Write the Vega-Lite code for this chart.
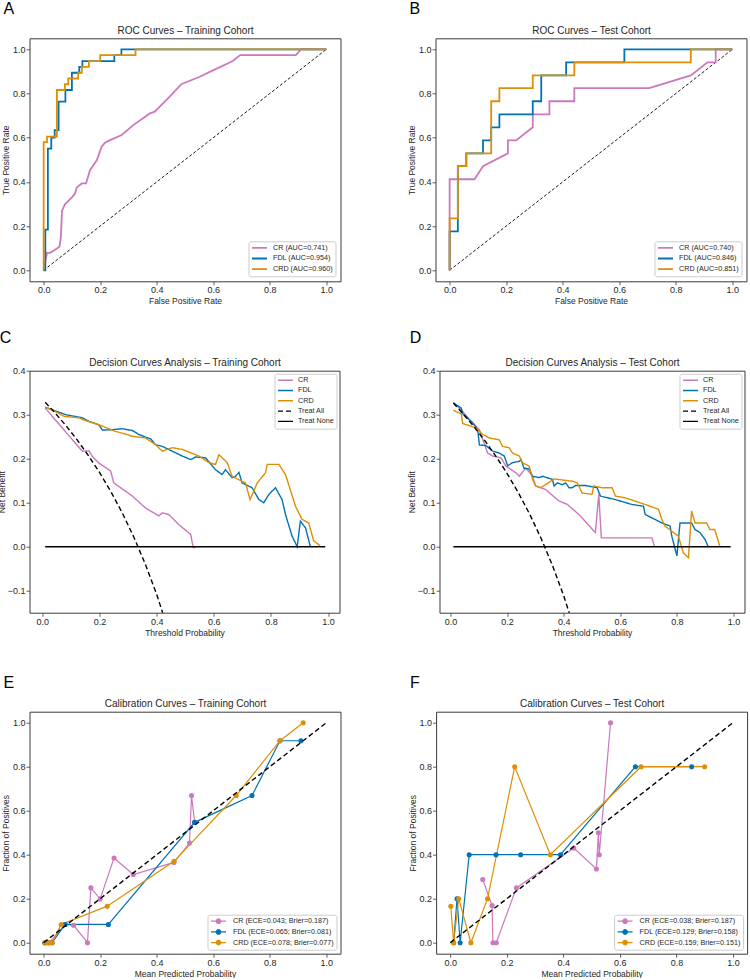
{
"$schema": "https://vega.github.io/schema/vega-lite/v6.json",
"background": "white",
"padding": {"left": -3.5, "top": 0.3, "right": 0, "bottom": 0},
"config": {
  "font": "Liberation Sans",
  "view": {"stroke": "#3a3a3a", "strokeWidth": 1},
  "axis": {"domain": false, "grid": false, "tickColor": "#3a3a3a", "tickSize": 3.5, "tickWidth": 0.8, "labelFontSize": 9, "labelColor": "#262626", "titleFontSize": 8.5, "titleFontWeight": "normal", "titleColor": "#262626", "labelPadding": 1, "titlePadding": 2, "labelFlush": false, "labelOverlap": false},
  "title": {"fontSize": 16, "fontWeight": "normal", "color": "#000000", "anchor": "start", "frame": "bounds", "dx": 2},
  "legend": {"labelColor": "#262626", "strokeColor": "#cccccc", "fillColor": "rgba(255,255,255,0.8)", "cornerRadius": 2, "labelFontSize": 7.2, "clipHeight": 8, "padding": 2.5}
},
"datasets": {
  "diag": [{"x": 0, "y": 0}, {"x": 1, "y": 1}],
  "roc_train": [
    {"model": "CR (AUC=0.741)", "x": 0, "y": 0}, {"model": "CR (AUC=0.741)", "x": 0.006, "y": 0.04}, {"model": "CR (AUC=0.741)", "x": 0.012, "y": 0.079}, {"model": "CR (AUC=0.741)", "x": 0.023, "y": 0.079}, {"model": "CR (AUC=0.741)", "x": 0.047, "y": 0.098}, {"model": "CR (AUC=0.741)", "x": 0.056, "y": 0.106}, {"model": "CR (AUC=0.741)", "x": 0.061, "y": 0.151}, {"model": "CR (AUC=0.741)", "x": 0.065, "y": 0.27}, {"model": "CR (AUC=0.741)", "x": 0.076, "y": 0.3}, {"model": "CR (AUC=0.741)", "x": 0.1, "y": 0.33}, {"model": "CR (AUC=0.741)", "x": 0.111, "y": 0.347}, {"model": "CR (AUC=0.741)", "x": 0.117, "y": 0.375}, {"model": "CR (AUC=0.741)", "x": 0.135, "y": 0.393}, {"model": "CR (AUC=0.741)", "x": 0.15, "y": 0.393}, {"model": "CR (AUC=0.741)", "x": 0.164, "y": 0.453}, {"model": "CR (AUC=0.741)", "x": 0.188, "y": 0.498}, {"model": "CR (AUC=0.741)", "x": 0.205, "y": 0.559}, {"model": "CR (AUC=0.741)", "x": 0.217, "y": 0.577}, {"model": "CR (AUC=0.741)", "x": 0.235, "y": 0.589}, {"model": "CR (AUC=0.741)", "x": 0.276, "y": 0.612}, {"model": "CR (AUC=0.741)", "x": 0.317, "y": 0.657}, {"model": "CR (AUC=0.741)", "x": 0.376, "y": 0.71}, {"model": "CR (AUC=0.741)", "x": 0.393, "y": 0.718}, {"model": "CR (AUC=0.741)", "x": 0.446, "y": 0.786}, {"model": "CR (AUC=0.741)", "x": 0.487, "y": 0.842}, {"model": "CR (AUC=0.741)", "x": 0.552, "y": 0.876}, {"model": "CR (AUC=0.741)", "x": 0.599, "y": 0.905}, {"model": "CR (AUC=0.741)", "x": 0.669, "y": 0.947}, {"model": "CR (AUC=0.741)", "x": 0.695, "y": 0.974}, {"model": "CR (AUC=0.741)", "x": 0.892, "y": 0.974}, {"model": "CR (AUC=0.741)", "x": 0.91, "y": 1.0}, {"model": "CR (AUC=0.741)", "x": 1, "y": 1},
    {"model": "FDL (AUC=0.954)", "x": 0, "y": 0}, {"model": "FDL (AUC=0.954)", "x": 0.006, "y": 0}, {"model": "FDL (AUC=0.954)", "x": 0.006, "y": 0.184}, {"model": "FDL (AUC=0.954)", "x": 0.015, "y": 0.184}, {"model": "FDL (AUC=0.954)", "x": 0.015, "y": 0.551}, {"model": "FDL (AUC=0.954)", "x": 0.027, "y": 0.551}, {"model": "FDL (AUC=0.954)", "x": 0.027, "y": 0.601}, {"model": "FDL (AUC=0.954)", "x": 0.039, "y": 0.601}, {"model": "FDL (AUC=0.954)", "x": 0.039, "y": 0.634}, {"model": "FDL (AUC=0.954)", "x": 0.053, "y": 0.634}, {"model": "FDL (AUC=0.954)", "x": 0.053, "y": 0.763}, {"model": "FDL (AUC=0.954)", "x": 0.077, "y": 0.763}, {"model": "FDL (AUC=0.954)", "x": 0.077, "y": 0.816}, {"model": "FDL (AUC=0.954)", "x": 0.1, "y": 0.816}, {"model": "FDL (AUC=0.954)", "x": 0.1, "y": 0.894}, {"model": "FDL (AUC=0.954)", "x": 0.126, "y": 0.894}, {"model": "FDL (AUC=0.954)", "x": 0.126, "y": 0.921}, {"model": "FDL (AUC=0.954)", "x": 0.137, "y": 0.921}, {"model": "FDL (AUC=0.954)", "x": 0.137, "y": 0.947}, {"model": "FDL (AUC=0.954)", "x": 0.25, "y": 0.947}, {"model": "FDL (AUC=0.954)", "x": 0.25, "y": 0.974}, {"model": "FDL (AUC=0.954)", "x": 0.275, "y": 0.974}, {"model": "FDL (AUC=0.954)", "x": 0.275, "y": 1.0}, {"model": "FDL (AUC=0.954)", "x": 1, "y": 1},
    {"model": "CRD (AUC=0.960)", "x": 0, "y": 0}, {"model": "CRD (AUC=0.960)", "x": 0, "y": 0.58}, {"model": "CRD (AUC=0.960)", "x": 0.012, "y": 0.58}, {"model": "CRD (AUC=0.960)", "x": 0.012, "y": 0.605}, {"model": "CRD (AUC=0.960)", "x": 0.047, "y": 0.605}, {"model": "CRD (AUC=0.960)", "x": 0.047, "y": 0.816}, {"model": "CRD (AUC=0.960)", "x": 0.075, "y": 0.816}, {"model": "CRD (AUC=0.960)", "x": 0.075, "y": 0.842}, {"model": "CRD (AUC=0.960)", "x": 0.087, "y": 0.842}, {"model": "CRD (AUC=0.960)", "x": 0.087, "y": 0.868}, {"model": "CRD (AUC=0.960)", "x": 0.122, "y": 0.868}, {"model": "CRD (AUC=0.960)", "x": 0.122, "y": 0.894}, {"model": "CRD (AUC=0.960)", "x": 0.135, "y": 0.894}, {"model": "CRD (AUC=0.960)", "x": 0.135, "y": 0.921}, {"model": "CRD (AUC=0.960)", "x": 0.16, "y": 0.921}, {"model": "CRD (AUC=0.960)", "x": 0.16, "y": 0.947}, {"model": "CRD (AUC=0.960)", "x": 0.2, "y": 0.947}, {"model": "CRD (AUC=0.960)", "x": 0.2, "y": 0.974}, {"model": "CRD (AUC=0.960)", "x": 0.325, "y": 0.974}, {"model": "CRD (AUC=0.960)", "x": 0.325, "y": 1.0}, {"model": "CRD (AUC=0.960)", "x": 1, "y": 1}
  ],
  "roc_test": [
    {"model": "CR (AUC=0.740)", "x": 0, "y": 0}, {"model": "CR (AUC=0.740)", "x": 0, "y": 0.412}, {"model": "CR (AUC=0.740)", "x": 0.088, "y": 0.412}, {"model": "CR (AUC=0.740)", "x": 0.118, "y": 0.471}, {"model": "CR (AUC=0.740)", "x": 0.206, "y": 0.529}, {"model": "CR (AUC=0.740)", "x": 0.206, "y": 0.588}, {"model": "CR (AUC=0.740)", "x": 0.235, "y": 0.588}, {"model": "CR (AUC=0.740)", "x": 0.294, "y": 0.647}, {"model": "CR (AUC=0.740)", "x": 0.294, "y": 0.706}, {"model": "CR (AUC=0.740)", "x": 0.353, "y": 0.706}, {"model": "CR (AUC=0.740)", "x": 0.353, "y": 0.765}, {"model": "CR (AUC=0.740)", "x": 0.441, "y": 0.765}, {"model": "CR (AUC=0.740)", "x": 0.441, "y": 0.824}, {"model": "CR (AUC=0.740)", "x": 0.706, "y": 0.824}, {"model": "CR (AUC=0.740)", "x": 0.853, "y": 0.882}, {"model": "CR (AUC=0.740)", "x": 0.912, "y": 0.941}, {"model": "CR (AUC=0.740)", "x": 0.941, "y": 0.941}, {"model": "CR (AUC=0.740)", "x": 0.941, "y": 1.0}, {"model": "CR (AUC=0.740)", "x": 1, "y": 1},
    {"model": "FDL (AUC=0.846)", "x": 0, "y": 0}, {"model": "FDL (AUC=0.846)", "x": 0, "y": 0.176}, {"model": "FDL (AUC=0.846)", "x": 0.029, "y": 0.176}, {"model": "FDL (AUC=0.846)", "x": 0.029, "y": 0.471}, {"model": "FDL (AUC=0.846)", "x": 0.059, "y": 0.471}, {"model": "FDL (AUC=0.846)", "x": 0.059, "y": 0.529}, {"model": "FDL (AUC=0.846)", "x": 0.118, "y": 0.529}, {"model": "FDL (AUC=0.846)", "x": 0.118, "y": 0.588}, {"model": "FDL (AUC=0.846)", "x": 0.147, "y": 0.588}, {"model": "FDL (AUC=0.846)", "x": 0.147, "y": 0.647}, {"model": "FDL (AUC=0.846)", "x": 0.176, "y": 0.647}, {"model": "FDL (AUC=0.846)", "x": 0.176, "y": 0.706}, {"model": "FDL (AUC=0.846)", "x": 0.294, "y": 0.706}, {"model": "FDL (AUC=0.846)", "x": 0.294, "y": 0.765}, {"model": "FDL (AUC=0.846)", "x": 0.324, "y": 0.765}, {"model": "FDL (AUC=0.846)", "x": 0.324, "y": 0.882}, {"model": "FDL (AUC=0.846)", "x": 0.412, "y": 0.882}, {"model": "FDL (AUC=0.846)", "x": 0.412, "y": 0.941}, {"model": "FDL (AUC=0.846)", "x": 0.618, "y": 0.941}, {"model": "FDL (AUC=0.846)", "x": 0.618, "y": 1.0}, {"model": "FDL (AUC=0.846)", "x": 1, "y": 1},
    {"model": "CRD (AUC=0.851)", "x": 0, "y": 0}, {"model": "CRD (AUC=0.851)", "x": 0, "y": 0.235}, {"model": "CRD (AUC=0.851)", "x": 0.029, "y": 0.235}, {"model": "CRD (AUC=0.851)", "x": 0.029, "y": 0.471}, {"model": "CRD (AUC=0.851)", "x": 0.059, "y": 0.471}, {"model": "CRD (AUC=0.851)", "x": 0.059, "y": 0.529}, {"model": "CRD (AUC=0.851)", "x": 0.147, "y": 0.529}, {"model": "CRD (AUC=0.851)", "x": 0.147, "y": 0.765}, {"model": "CRD (AUC=0.851)", "x": 0.176, "y": 0.765}, {"model": "CRD (AUC=0.851)", "x": 0.176, "y": 0.824}, {"model": "CRD (AUC=0.851)", "x": 0.294, "y": 0.824}, {"model": "CRD (AUC=0.851)", "x": 0.294, "y": 0.882}, {"model": "CRD (AUC=0.851)", "x": 0.441, "y": 0.882}, {"model": "CRD (AUC=0.851)", "x": 0.441, "y": 0.941}, {"model": "CRD (AUC=0.851)", "x": 0.853, "y": 0.941}, {"model": "CRD (AUC=0.851)", "x": 0.853, "y": 1.0}, {"model": "CRD (AUC=0.851)", "x": 1, "y": 1}
  ],
  "dca_train": [
    {"curve": "CR", "x": 0.01, "y": 0.315}, {"curve": "CR", "x": 0.14, "y": 0.217}, {"curve": "CR", "x": 0.163, "y": 0.218}, {"curve": "CR", "x": 0.175, "y": 0.205}, {"curve": "CR", "x": 0.198, "y": 0.19}, {"curve": "CR", "x": 0.239, "y": 0.172}, {"curve": "CR", "x": 0.25, "y": 0.145}, {"curve": "CR", "x": 0.315, "y": 0.115}, {"curve": "CR", "x": 0.361, "y": 0.088}, {"curve": "CR", "x": 0.408, "y": 0.07}, {"curve": "CR", "x": 0.42, "y": 0.077}, {"curve": "CR", "x": 0.443, "y": 0.073}, {"curve": "CR", "x": 0.478, "y": 0.05}, {"curve": "CR", "x": 0.519, "y": 0.028}, {"curve": "CR", "x": 0.528, "y": -0.002}, {"curve": "CR", "x": 0.536, "y": -0.002},
    {"curve": "FDL", "x": 0.01, "y": 0.317}, {"curve": "FDL", "x": 0.082, "y": 0.3}, {"curve": "FDL", "x": 0.14, "y": 0.293}, {"curve": "FDL", "x": 0.163, "y": 0.285}, {"curve": "FDL", "x": 0.198, "y": 0.277}, {"curve": "FDL", "x": 0.21, "y": 0.265}, {"curve": "FDL", "x": 0.245, "y": 0.266}, {"curve": "FDL", "x": 0.28, "y": 0.268}, {"curve": "FDL", "x": 0.315, "y": 0.264}, {"curve": "FDL", "x": 0.338, "y": 0.255}, {"curve": "FDL", "x": 0.361, "y": 0.249}, {"curve": "FDL", "x": 0.379, "y": 0.245}, {"curve": "FDL", "x": 0.396, "y": 0.232}, {"curve": "FDL", "x": 0.42, "y": 0.228}, {"curve": "FDL", "x": 0.455, "y": 0.217}, {"curve": "FDL", "x": 0.49, "y": 0.206}, {"curve": "FDL", "x": 0.519, "y": 0.198}, {"curve": "FDL", "x": 0.536, "y": 0.204}, {"curve": "FDL", "x": 0.571, "y": 0.202}, {"curve": "FDL", "x": 0.606, "y": 0.175}, {"curve": "FDL", "x": 0.629, "y": 0.164}, {"curve": "FDL", "x": 0.641, "y": 0.175}, {"curve": "FDL", "x": 0.664, "y": 0.157}, {"curve": "FDL", "x": 0.676, "y": 0.16}, {"curve": "FDL", "x": 0.688, "y": 0.169}, {"curve": "FDL", "x": 0.699, "y": 0.145}, {"curve": "FDL", "x": 0.734, "y": 0.134}, {"curve": "FDL", "x": 0.758, "y": 0.107}, {"curve": "FDL", "x": 0.775, "y": 0.1}, {"curve": "FDL", "x": 0.793, "y": 0.119}, {"curve": "FDL", "x": 0.816, "y": 0.134}, {"curve": "FDL", "x": 0.839, "y": 0.107}, {"curve": "FDL", "x": 0.851, "y": 0.073}, {"curve": "FDL", "x": 0.874, "y": 0.024}, {"curve": "FDL", "x": 0.892, "y": 0}, {"curve": "FDL", "x": 0.903, "y": 0.058}, {"curve": "FDL", "x": 0.921, "y": 0.043}, {"curve": "FDL", "x": 0.938, "y": 0},
    {"curve": "CRD", "x": 0.01, "y": 0.317}, {"curve": "CRD", "x": 0.035, "y": 0.311}, {"curve": "CRD", "x": 0.076, "y": 0.296}, {"curve": "CRD", "x": 0.128, "y": 0.293}, {"curve": "CRD", "x": 0.14, "y": 0.289}, {"curve": "CRD", "x": 0.198, "y": 0.277}, {"curve": "CRD", "x": 0.256, "y": 0.262}, {"curve": "CRD", "x": 0.291, "y": 0.256}, {"curve": "CRD", "x": 0.315, "y": 0.251}, {"curve": "CRD", "x": 0.361, "y": 0.247}, {"curve": "CRD", "x": 0.396, "y": 0.232}, {"curve": "CRD", "x": 0.42, "y": 0.217}, {"curve": "CRD", "x": 0.455, "y": 0.225}, {"curve": "CRD", "x": 0.49, "y": 0.221}, {"curve": "CRD", "x": 0.548, "y": 0.206}, {"curve": "CRD", "x": 0.583, "y": 0.191}, {"curve": "CRD", "x": 0.606, "y": 0.187}, {"curve": "CRD", "x": 0.618, "y": 0.209}, {"curve": "CRD", "x": 0.647, "y": 0.191}, {"curve": "CRD", "x": 0.664, "y": 0.16}, {"curve": "CRD", "x": 0.711, "y": 0.145}, {"curve": "CRD", "x": 0.727, "y": 0.107}, {"curve": "CRD", "x": 0.752, "y": 0.145}, {"curve": "CRD", "x": 0.781, "y": 0.168}, {"curve": "CRD", "x": 0.787, "y": 0.187}, {"curve": "CRD", "x": 0.828, "y": 0.187}, {"curve": "CRD", "x": 0.851, "y": 0.164}, {"curve": "CRD", "x": 0.886, "y": 0.092}, {"curve": "CRD", "x": 0.909, "y": 0.062}, {"curve": "CRD", "x": 0.932, "y": 0.054}, {"curve": "CRD", "x": 0.95, "y": 0.013}, {"curve": "CRD", "x": 0.967, "y": 0.005}, {"curve": "CRD", "x": 0.973, "y": 0},
    {"curve": "Treat All", "x": 0.01, "y": 0.3283}, {"curve": "Treat All", "x": 0.04, "y": 0.3073}, {"curve": "Treat All", "x": 0.08, "y": 0.2772}, {"curve": "Treat All", "x": 0.12, "y": 0.2443}, {"curve": "Treat All", "x": 0.16, "y": 0.2083}, {"curve": "Treat All", "x": 0.2, "y": 0.1688}, {"curve": "Treat All", "x": 0.24, "y": 0.125}, {"curve": "Treat All", "x": 0.28, "y": 0.0764}, {"curve": "Treat All", "x": 0.32, "y": 0.0221}, {"curve": "Treat All", "x": 0.36, "y": -0.0391}, {"curve": "Treat All", "x": 0.4, "y": -0.1083}, {"curve": "Treat All", "x": 0.44, "y": -0.1875},
    {"curve": "Treat None", "x": 0.01, "y": 0}, {"curve": "Treat None", "x": 0.99, "y": 0}
  ],
  "dca_test": [
    {"curve": "CR", "x": 0.01, "y": 0.327}, {"curve": "CR", "x": 0.038, "y": 0.311}, {"curve": "CR", "x": 0.067, "y": 0.289}, {"curve": "CR", "x": 0.102, "y": 0.266}, {"curve": "CR", "x": 0.131, "y": 0.213}, {"curve": "CR", "x": 0.149, "y": 0.206}, {"curve": "CR", "x": 0.178, "y": 0.202}, {"curve": "CR", "x": 0.196, "y": 0.183}, {"curve": "CR", "x": 0.231, "y": 0.168}, {"curve": "CR", "x": 0.243, "y": 0.16}, {"curve": "CR", "x": 0.266, "y": 0.179}, {"curve": "CR", "x": 0.29, "y": 0.16}, {"curve": "CR", "x": 0.301, "y": 0.138}, {"curve": "CR", "x": 0.336, "y": 0.13}, {"curve": "CR", "x": 0.383, "y": 0.104}, {"curve": "CR", "x": 0.413, "y": 0.096}, {"curve": "CR", "x": 0.454, "y": 0.073}, {"curve": "CR", "x": 0.512, "y": 0.032}, {"curve": "CR", "x": 0.524, "y": 0.119}, {"curve": "CR", "x": 0.533, "y": 0.02}, {"curve": "CR", "x": 0.547, "y": 0.02}, {"curve": "CR", "x": 0.712, "y": 0.02}, {"curve": "CR", "x": 0.721, "y": 0},
    {"curve": "FDL", "x": 0.01, "y": 0.327}, {"curve": "FDL", "x": 0.038, "y": 0.315}, {"curve": "FDL", "x": 0.043, "y": 0.302}, {"curve": "FDL", "x": 0.079, "y": 0.281}, {"curve": "FDL", "x": 0.096, "y": 0.266}, {"curve": "FDL", "x": 0.102, "y": 0.231}, {"curve": "FDL", "x": 0.125, "y": 0.23}, {"curve": "FDL", "x": 0.149, "y": 0.217}, {"curve": "FDL", "x": 0.172, "y": 0.213}, {"curve": "FDL", "x": 0.19, "y": 0.206}, {"curve": "FDL", "x": 0.202, "y": 0.184}, {"curve": "FDL", "x": 0.219, "y": 0.191}, {"curve": "FDL", "x": 0.243, "y": 0.194}, {"curve": "FDL", "x": 0.249, "y": 0.198}, {"curve": "FDL", "x": 0.26, "y": 0.178}, {"curve": "FDL", "x": 0.278, "y": 0.177}, {"curve": "FDL", "x": 0.29, "y": 0.16}, {"curve": "FDL", "x": 0.313, "y": 0.157}, {"curve": "FDL", "x": 0.325, "y": 0.16}, {"curve": "FDL", "x": 0.36, "y": 0.153}, {"curve": "FDL", "x": 0.366, "y": 0.138}, {"curve": "FDL", "x": 0.378, "y": 0.145}, {"curve": "FDL", "x": 0.395, "y": 0.141}, {"curve": "FDL", "x": 0.407, "y": 0.145}, {"curve": "FDL", "x": 0.419, "y": 0.134}, {"curve": "FDL", "x": 0.43, "y": 0.134}, {"curve": "FDL", "x": 0.442, "y": 0.139}, {"curve": "FDL", "x": 0.477, "y": 0.139}, {"curve": "FDL", "x": 0.518, "y": 0.134}, {"curve": "FDL", "x": 0.53, "y": 0.115}, {"curve": "FDL", "x": 0.583, "y": 0.107}, {"curve": "FDL", "x": 0.641, "y": 0.096}, {"curve": "FDL", "x": 0.682, "y": 0.092}, {"curve": "FDL", "x": 0.688, "y": 0.073}, {"curve": "FDL", "x": 0.723, "y": 0.062}, {"curve": "FDL", "x": 0.747, "y": 0.054}, {"curve": "FDL", "x": 0.776, "y": 0.047}, {"curve": "FDL", "x": 0.782, "y": 0.024}, {"curve": "FDL", "x": 0.8, "y": -0.021}, {"curve": "FDL", "x": 0.811, "y": 0.054}, {"curve": "FDL", "x": 0.852, "y": 0.054}, {"curve": "FDL", "x": 0.864, "y": 0.039}, {"curve": "FDL", "x": 0.882, "y": 0.032}, {"curve": "FDL", "x": 0.899, "y": 0.017}, {"curve": "FDL", "x": 0.911, "y": 0},
    {"curve": "CRD", "x": 0.01, "y": 0.31}, {"curve": "CRD", "x": 0.038, "y": 0.302}, {"curve": "CRD", "x": 0.043, "y": 0.28}, {"curve": "CRD", "x": 0.09, "y": 0.27}, {"curve": "CRD", "x": 0.114, "y": 0.255}, {"curve": "CRD", "x": 0.137, "y": 0.247}, {"curve": "CRD", "x": 0.172, "y": 0.243}, {"curve": "CRD", "x": 0.184, "y": 0.228}, {"curve": "CRD", "x": 0.207, "y": 0.225}, {"curve": "CRD", "x": 0.219, "y": 0.213}, {"curve": "CRD", "x": 0.243, "y": 0.206}, {"curve": "CRD", "x": 0.254, "y": 0.191}, {"curve": "CRD", "x": 0.278, "y": 0.183}, {"curve": "CRD", "x": 0.29, "y": 0.153}, {"curve": "CRD", "x": 0.301, "y": 0.138}, {"curve": "CRD", "x": 0.319, "y": 0.134}, {"curve": "CRD", "x": 0.336, "y": 0.141}, {"curve": "CRD", "x": 0.366, "y": 0.154}, {"curve": "CRD", "x": 0.378, "y": 0.153}, {"curve": "CRD", "x": 0.43, "y": 0.149}, {"curve": "CRD", "x": 0.448, "y": 0.145}, {"curve": "CRD", "x": 0.465, "y": 0.122}, {"curve": "CRD", "x": 0.5, "y": 0.119}, {"curve": "CRD", "x": 0.506, "y": 0.138}, {"curve": "CRD", "x": 0.536, "y": 0.134}, {"curve": "CRD", "x": 0.571, "y": 0.134}, {"curve": "CRD", "x": 0.583, "y": 0.115}, {"curve": "CRD", "x": 0.618, "y": 0.111}, {"curve": "CRD", "x": 0.688, "y": 0.096}, {"curve": "CRD", "x": 0.735, "y": 0.085}, {"curve": "CRD", "x": 0.747, "y": 0.062}, {"curve": "CRD", "x": 0.758, "y": 0.047}, {"curve": "CRD", "x": 0.805, "y": 0.024}, {"curve": "CRD", "x": 0.823, "y": -0.014}, {"curve": "CRD", "x": 0.841, "y": -0.025}, {"curve": "CRD", "x": 0.852, "y": 0.081}, {"curve": "CRD", "x": 0.864, "y": 0.054}, {"curve": "CRD", "x": 0.905, "y": 0.054}, {"curve": "CRD", "x": 0.917, "y": 0.039}, {"curve": "CRD", "x": 0.934, "y": 0.039}, {"curve": "CRD", "x": 0.952, "y": 0},
    {"curve": "Treat All", "x": 0.01, "y": 0.3263}, {"curve": "Treat All", "x": 0.04, "y": 0.3052}, {"curve": "Treat All", "x": 0.08, "y": 0.275}, {"curve": "Treat All", "x": 0.12, "y": 0.242}, {"curve": "Treat All", "x": 0.16, "y": 0.2059}, {"curve": "Treat All", "x": 0.2, "y": 0.1663}, {"curve": "Treat All", "x": 0.24, "y": 0.1224}, {"curve": "Treat All", "x": 0.28, "y": 0.0736}, {"curve": "Treat All", "x": 0.32, "y": 0.0191}, {"curve": "Treat All", "x": 0.36, "y": -0.0422}, {"curve": "Treat All", "x": 0.4, "y": -0.1117}, {"curve": "Treat All", "x": 0.44, "y": -0.1911},
    {"curve": "Treat None", "x": 0.01, "y": 0}, {"curve": "Treat None", "x": 0.99, "y": 0}
  ],
  "cal_train": [
    {"model": "CR (ECE=0.043; Brier=0.187)", "x": 0.005, "y": 0}, {"model": "CR (ECE=0.043; Brier=0.187)", "x": 0.02, "y": 0}, {"model": "CR (ECE=0.043; Brier=0.187)", "x": 0.076, "y": 0.083}, {"model": "CR (ECE=0.043; Brier=0.187)", "x": 0.106, "y": 0.079}, {"model": "CR (ECE=0.043; Brier=0.187)", "x": 0.155, "y": 0}, {"model": "CR (ECE=0.043; Brier=0.187)", "x": 0.167, "y": 0.249}, {"model": "CR (ECE=0.043; Brier=0.187)", "x": 0.2, "y": 0.199}, {"model": "CR (ECE=0.043; Brier=0.187)", "x": 0.249, "y": 0.385}, {"model": "CR (ECE=0.043; Brier=0.187)", "x": 0.317, "y": 0.31}, {"model": "CR (ECE=0.043; Brier=0.187)", "x": 0.461, "y": 0.365}, {"model": "CR (ECE=0.043; Brier=0.187)", "x": 0.516, "y": 0.453}, {"model": "CR (ECE=0.043; Brier=0.187)", "x": 0.523, "y": 0.669}, {"model": "CR (ECE=0.043; Brier=0.187)", "x": 0.534, "y": 0.547},
    {"model": "FDL (ECE=0.065; Brier=0.081)", "x": 0.004, "y": 0}, {"model": "FDL (ECE=0.065; Brier=0.081)", "x": 0.016, "y": 0}, {"model": "FDL (ECE=0.065; Brier=0.081)", "x": 0.03, "y": 0}, {"model": "FDL (ECE=0.065; Brier=0.081)", "x": 0.076, "y": 0.083}, {"model": "FDL (ECE=0.065; Brier=0.081)", "x": 0.229, "y": 0.083}, {"model": "FDL (ECE=0.065; Brier=0.081)", "x": 0.534, "y": 0.547}, {"model": "FDL (ECE=0.065; Brier=0.081)", "x": 0.737, "y": 0.669}, {"model": "FDL (ECE=0.065; Brier=0.081)", "x": 0.836, "y": 0.918}, {"model": "FDL (ECE=0.065; Brier=0.081)", "x": 0.91, "y": 0.918},
    {"model": "CRD (ECE=0.078; Brier=0.077)", "x": 0.006, "y": 0}, {"model": "CRD (ECE=0.078; Brier=0.077)", "x": 0.018, "y": 0}, {"model": "CRD (ECE=0.078; Brier=0.077)", "x": 0.03, "y": 0}, {"model": "CRD (ECE=0.078; Brier=0.077)", "x": 0.062, "y": 0.083}, {"model": "CRD (ECE=0.078; Brier=0.077)", "x": 0.225, "y": 0.166}, {"model": "CRD (ECE=0.078; Brier=0.077)", "x": 0.461, "y": 0.37}, {"model": "CRD (ECE=0.078; Brier=0.077)", "x": 0.681, "y": 0.669}, {"model": "CRD (ECE=0.078; Brier=0.077)", "x": 0.836, "y": 0.918}, {"model": "CRD (ECE=0.078; Brier=0.077)", "x": 0.918, "y": 1.0}
  ],
  "cal_test": [
    {"model": "CR (ECE=0.038; Brier=0.187)", "x": 0.115, "y": 0.287}, {"model": "CR (ECE=0.038; Brier=0.187)", "x": 0.148, "y": 0.169}, {"model": "CR (ECE=0.038; Brier=0.187)", "x": 0.151, "y": 0}, {"model": "CR (ECE=0.038; Brier=0.187)", "x": 0.163, "y": 0}, {"model": "CR (ECE=0.038; Brier=0.187)", "x": 0.234, "y": 0.249}, {"model": "CR (ECE=0.038; Brier=0.187)", "x": 0.437, "y": 0.43}, {"model": "CR (ECE=0.038; Brier=0.187)", "x": 0.517, "y": 0.335}, {"model": "CR (ECE=0.038; Brier=0.187)", "x": 0.524, "y": 0.5}, {"model": "CR (ECE=0.038; Brier=0.187)", "x": 0.527, "y": 0.4}, {"model": "CR (ECE=0.038; Brier=0.187)", "x": 0.567, "y": 1.0},
    {"model": "FDL (ECE=0.129; Brier=0.158)", "x": 0.012, "y": 0}, {"model": "FDL (ECE=0.129; Brier=0.158)", "x": 0.024, "y": 0.2}, {"model": "FDL (ECE=0.129; Brier=0.158)", "x": 0.035, "y": 0}, {"model": "FDL (ECE=0.129; Brier=0.158)", "x": 0.067, "y": 0.4}, {"model": "FDL (ECE=0.129; Brier=0.158)", "x": 0.162, "y": 0.4}, {"model": "FDL (ECE=0.129; Brier=0.158)", "x": 0.249, "y": 0.4}, {"model": "FDL (ECE=0.129; Brier=0.158)", "x": 0.39, "y": 0.4}, {"model": "FDL (ECE=0.129; Brier=0.158)", "x": 0.655, "y": 0.8}, {"model": "FDL (ECE=0.129; Brier=0.158)", "x": 0.854, "y": 0.8},
    {"model": "CRD (ECE=0.159; Brier=0.151)", "x": 0.002, "y": 0.166}, {"model": "CRD (ECE=0.159; Brier=0.151)", "x": 0.012, "y": 0}, {"model": "CRD (ECE=0.159; Brier=0.151)", "x": 0.03, "y": 0.2}, {"model": "CRD (ECE=0.159; Brier=0.151)", "x": 0.073, "y": 0}, {"model": "CRD (ECE=0.159; Brier=0.151)", "x": 0.132, "y": 0.2}, {"model": "CRD (ECE=0.159; Brier=0.151)", "x": 0.228, "y": 0.8}, {"model": "CRD (ECE=0.159; Brier=0.151)", "x": 0.354, "y": 0.4}, {"model": "CRD (ECE=0.159; Brier=0.151)", "x": 0.675, "y": 0.8}, {"model": "CRD (ECE=0.159; Brier=0.151)", "x": 0.9, "y": 0.8}
  ]
},
"columns": 1,
"align": "none",
"spacing": 22.4,
"resolve": {"scale": {"color": "independent", "strokeDash": "independent"}, "legend": {"color": "independent", "strokeDash": "independent"}},
"concat": [
  {
    "hconcat": [
      {
        "title": {"text": "A", "offset": 8},
        "width": 311, "height": 243,
        "resolve": {"axis": {"x": "independent"}},
        "layer": [
          {"data": {"name": "diag"}, "mark": {"type": "line", "color": "#000", "strokeWidth": 0.9, "strokeDash": [3, 2]},
           "encoding": {
             "x": {"field": "x", "type": "quantitative", "scale": {"domain": [-0.05, 1.05], "nice": false, "zero": false}, "axis": {"orient": "top", "labels": false, "ticks": false, "title": "ROC Curves – Training Cohort", "titleFontSize": 10, "titlePadding": 3}},
             "y": {"field": "y", "type": "quantitative", "scale": {"domain": [-0.05, 1.05], "nice": false, "zero": false}, "axis": {"title": "True Positive Rate", "values": [0, 0.2, 0.4, 0.6, 0.8, 1], "format": ".1f"}}}},
          {"data": {"name": "roc_train"}, "mark": {"type": "line", "strokeWidth": 1.8, "clip": true},
           "encoding": {
             "x": {"field": "x", "type": "quantitative", "scale": {"domain": [-0.05, 1.05], "nice": false, "zero": false}, "axis": {"orient": "bottom", "title": "False Positive Rate", "values": [0, 0.2, 0.4, 0.6, 0.8, 1], "format": ".1f"}},
             "y": {"field": "y", "type": "quantitative", "scale": {"domain": [-0.05, 1.05], "nice": false, "zero": false}, "axis": {"title": "True Positive Rate", "values": [0, 0.2, 0.4, 0.6, 0.8, 1], "format": ".1f"}},
             "order": {"value": null},
             "color": {"field": "model", "type": "nominal", "scale": {"domain": ["CR (AUC=0.741)", "FDL (AUC=0.954)", "CRD (AUC=0.960)"], "range": ["#CC78BC", "#0173B2", "#DE8F05"]}, "legend": {"title": null, "orient": "bottom-right", "offset": 5, "symbolType": "stroke", "symbolSize": 225, "symbolStrokeWidth": 1.8, "rowPadding": 2.7, "labelOffset": 5}}}}
        ]
      },
      {
        "title": {"text": "B", "offset": 8},
        "width": 311, "height": 243,
        "resolve": {"axis": {"x": "independent"}},
        "layer": [
          {"data": {"name": "diag"}, "mark": {"type": "line", "color": "#000", "strokeWidth": 0.9, "strokeDash": [3, 2]},
           "encoding": {
             "x": {"field": "x", "type": "quantitative", "scale": {"domain": [-0.05, 1.05], "nice": false, "zero": false}, "axis": {"orient": "top", "labels": false, "ticks": false, "title": "ROC Curves – Test Cohort", "titleFontSize": 10, "titlePadding": 3}},
             "y": {"field": "y", "type": "quantitative", "scale": {"domain": [-0.05, 1.05], "nice": false, "zero": false}, "axis": {"title": "True Positive Rate", "values": [0, 0.2, 0.4, 0.6, 0.8, 1], "format": ".1f"}}}},
          {"data": {"name": "roc_test"}, "mark": {"type": "line", "strokeWidth": 1.8, "clip": true},
           "encoding": {
             "x": {"field": "x", "type": "quantitative", "scale": {"domain": [-0.05, 1.05], "nice": false, "zero": false}, "axis": {"orient": "bottom", "title": "False Positive Rate", "values": [0, 0.2, 0.4, 0.6, 0.8, 1], "format": ".1f"}},
             "y": {"field": "y", "type": "quantitative", "scale": {"domain": [-0.05, 1.05], "nice": false, "zero": false}, "axis": {"title": "True Positive Rate", "values": [0, 0.2, 0.4, 0.6, 0.8, 1], "format": ".1f"}},
             "order": {"value": null},
             "color": {"field": "model", "type": "nominal", "scale": {"domain": ["CR (AUC=0.740)", "FDL (AUC=0.846)", "CRD (AUC=0.851)"], "range": ["#CC78BC", "#0173B2", "#DE8F05"]}, "legend": {"title": null, "orient": "bottom-right", "offset": 5, "symbolType": "stroke", "symbolSize": 225, "symbolStrokeWidth": 1.8, "rowPadding": 2.7, "labelOffset": 5}}}}
        ]
      }
    ],
    "spacing": 95,
    "bounds": "flush",
    "resolve": {"scale": {"color": "independent"}, "legend": {"color": "independent"}}
  },
  {
    "columns": 1,
    "align": "none",
    "concat": [
      {
        "hconcat": [
          {
            "title": {"text": "C", "offset": 12},
            "width": 310, "height": 242,
            "resolve": {"axis": {"x": "independent"}},
            "layer": [
              {"data": {"name": "dca_train"}, "mark": {"type": "line", "strokeWidth": 1.4, "clip": true},
               "encoding": {
                 "x": {"field": "x", "type": "quantitative", "scale": {"domain": [-0.045, 1.04], "nice": false, "zero": false}, "axis": {"orient": "bottom", "title": "Threshold Probability", "values": [0, 0.2, 0.4, 0.6, 0.8, 1], "format": ".1f"}},
                 "y": {"field": "y", "type": "quantitative", "scale": {"domain": [-0.15, 0.4], "nice": false, "zero": false}, "axis": {"title": "Net Benefit", "titlePadding": 0.5, "values": [-0.1, 0, 0.1, 0.2, 0.3, 0.4], "format": ".1f"}},
                 "order": {"value": null},
                 "color": {"field": "curve", "type": "nominal", "scale": {"domain": ["CR", "FDL", "CRD", "Treat All", "Treat None"], "range": ["#CC78BC", "#0173B2", "#DE8F05", "#000000", "#000000"]}, "legend": {"title": null, "orient": "top-right", "offset": 3, "symbolType": "stroke", "symbolSize": 225, "symbolStrokeWidth": 1.4, "rowPadding": 2.3, "labelOffset": 4}},
                 "strokeDash": {"field": "curve", "type": "nominal", "scale": {"domain": ["CR", "FDL", "CRD", "Treat All", "Treat None"], "range": [[1, 0], [1, 0], [1, 0], [5, 3], [1, 0]]}, "legend": {"title": null, "orient": "top-right", "offset": 3, "symbolType": "stroke", "symbolSize": 225, "symbolStrokeWidth": 1.4, "rowPadding": 2.3, "labelOffset": 4}}}},
              {"data": {"name": "diag"}, "mark": {"type": "point", "opacity": 0, "clip": true},
               "encoding": {
                 "x": {"field": "x", "type": "quantitative", "scale": {"domain": [-0.045, 1.04], "nice": false, "zero": false}, "axis": {"orient": "top", "labels": false, "ticks": false, "title": "Decision Curves Analysis – Training Cohort", "titleFontSize": 10, "titlePadding": 3}},
                 "y": {"field": "y", "type": "quantitative", "scale": {"domain": [-0.15, 0.4], "nice": false, "zero": false}, "axis": {"title": "Net Benefit", "titlePadding": 0.5, "values": [-0.1, 0, 0.1, 0.2, 0.3, 0.4], "format": ".1f"}}}}
            ]
          },
          {
            "title": {"text": "D", "offset": 12},
            "width": 305, "height": 242,
            "resolve": {"axis": {"x": "independent"}},
            "layer": [
              {"data": {"name": "dca_test"}, "mark": {"type": "line", "strokeWidth": 1.4, "clip": true},
               "encoding": {
                 "x": {"field": "x", "type": "quantitative", "scale": {"domain": [-0.039, 1.039], "nice": false, "zero": false}, "axis": {"orient": "bottom", "title": "Threshold Probability", "values": [0, 0.2, 0.4, 0.6, 0.8, 1], "format": ".1f"}},
                 "y": {"field": "y", "type": "quantitative", "scale": {"domain": [-0.15, 0.4], "nice": false, "zero": false}, "axis": {"title": "Net Benefit", "titlePadding": 0.5, "values": [-0.1, 0, 0.1, 0.2, 0.3, 0.4], "format": ".1f"}},
                 "order": {"value": null},
                 "color": {"field": "curve", "type": "nominal", "scale": {"domain": ["CR", "FDL", "CRD", "Treat All", "Treat None"], "range": ["#CC78BC", "#0173B2", "#DE8F05", "#000000", "#000000"]}, "legend": {"title": null, "orient": "top-right", "offset": 3, "symbolType": "stroke", "symbolSize": 225, "symbolStrokeWidth": 1.4, "rowPadding": 2.3, "labelOffset": 4}},
                 "strokeDash": {"field": "curve", "type": "nominal", "scale": {"domain": ["CR", "FDL", "CRD", "Treat All", "Treat None"], "range": [[1, 0], [1, 0], [1, 0], [5, 3], [1, 0]]}, "legend": {"title": null, "orient": "top-right", "offset": 3, "symbolType": "stroke", "symbolSize": 225, "symbolStrokeWidth": 1.4, "rowPadding": 2.3, "labelOffset": 4}}}},
              {"data": {"name": "diag"}, "mark": {"type": "point", "opacity": 0, "clip": true},
               "encoding": {
                 "x": {"field": "x", "type": "quantitative", "scale": {"domain": [-0.039, 1.039], "nice": false, "zero": false}, "axis": {"orient": "top", "labels": false, "ticks": false, "title": "Decision Curves Analysis – Test Cohort", "titleFontSize": 10, "titlePadding": 3}},
                 "y": {"field": "y", "type": "quantitative", "scale": {"domain": [-0.15, 0.4], "nice": false, "zero": false}, "axis": {"title": "Net Benefit", "titlePadding": 0.5, "values": [-0.1, 0, 0.1, 0.2, 0.3, 0.4], "format": ".1f"}}}}
            ]
          }
        ],
        "spacing": 100,
        "bounds": "flush",
        "resolve": {"scale": {"color": "independent", "strokeDash": "independent"}, "legend": {"color": "independent", "strokeDash": "independent"}}
      },
      {
        "hconcat": [
          {
            "title": {"text": "E", "offset": 8},
            "width": 311, "height": 242,
            "resolve": {"axis": {"x": "independent"}},
            "layer": [
              {"data": {"name": "cal_train"}, "mark": {"type": "line", "strokeWidth": 1.2, "clip": true, "point": {"filled": true, "size": 26}},
               "encoding": {
                 "x": {"field": "x", "type": "quantitative", "scale": {"domain": [-0.05, 1.05], "nice": false, "zero": false}, "axis": {"orient": "bottom", "title": "Mean Predicted Probability", "values": [0, 0.2, 0.4, 0.6, 0.8, 1], "format": ".1f"}},
                 "y": {"field": "y", "type": "quantitative", "scale": {"domain": [-0.05, 1.05], "nice": false, "zero": false}, "axis": {"title": "Fraction of Positives", "values": [0, 0.2, 0.4, 0.6, 0.8, 1], "format": ".1f"}},
                 "order": {"value": null},
                 "color": {"field": "model", "type": "nominal", "scale": {"domain": ["CR (ECE=0.043; Brier=0.187)", "FDL (ECE=0.065; Brier=0.081)", "CRD (ECE=0.078; Brier=0.077)"], "range": ["#CC78BC", "#0173B2", "#DE8F05"]}, "legend": {"title": null, "orient": "bottom-right", "offset": 4, "symbolType": "M-1,0H1M0.3,0A0.3,0.3,0,1,1,-0.3,0A0.3,0.3,0,1,1,0.3,0Z", "symbolSize": 225, "symbolStrokeWidth": 1.2, "rowPadding": 2.7, "labelOffset": 6, "encode": {"symbols": {"update": {"fill": {"value": {"expr": "['#CC78BC','#0173B2','#DE8F05'][datum.index]"}}}}}}}}},
              {"data": {"name": "diag"}, "mark": {"type": "line", "color": "#000", "strokeWidth": 1.4, "strokeDash": [5, 3]},
               "encoding": {
                 "x": {"field": "x", "type": "quantitative", "scale": {"domain": [-0.05, 1.05], "nice": false, "zero": false}, "axis": {"orient": "top", "labels": false, "ticks": false, "title": "Calibration Curves – Training Cohort", "titleFontSize": 10, "titlePadding": 3}},
                 "y": {"field": "y", "type": "quantitative", "scale": {"domain": [-0.05, 1.05], "nice": false, "zero": false}, "axis": {"title": "Fraction of Positives", "values": [0, 0.2, 0.4, 0.6, 0.8, 1], "format": ".1f"}}}}
            ]
          },
          {
            "title": {"text": "F", "offset": 8},
            "width": 311, "height": 242,
            "resolve": {"axis": {"x": "independent"}},
            "layer": [
              {"data": {"name": "cal_test"}, "mark": {"type": "line", "strokeWidth": 1.2, "clip": true, "point": {"filled": true, "size": 26}},
               "encoding": {
                 "x": {"field": "x", "type": "quantitative", "scale": {"domain": [-0.05, 1.05], "nice": false, "zero": false}, "axis": {"orient": "bottom", "title": "Mean Predicted Probability", "values": [0, 0.2, 0.4, 0.6, 0.8, 1], "format": ".1f"}},
                 "y": {"field": "y", "type": "quantitative", "scale": {"domain": [-0.05, 1.05], "nice": false, "zero": false}, "axis": {"title": "Fraction of Positives", "values": [0, 0.2, 0.4, 0.6, 0.8, 1], "format": ".1f"}},
                 "order": {"value": null},
                 "color": {"field": "model", "type": "nominal", "scale": {"domain": ["CR (ECE=0.038; Brier=0.187)", "FDL (ECE=0.129; Brier=0.158)", "CRD (ECE=0.159; Brier=0.151)"], "range": ["#CC78BC", "#0173B2", "#DE8F05"]}, "legend": {"title": null, "orient": "bottom-right", "offset": 4, "symbolType": "M-1,0H1M0.3,0A0.3,0.3,0,1,1,-0.3,0A0.3,0.3,0,1,1,0.3,0Z", "symbolSize": 225, "symbolStrokeWidth": 1.2, "rowPadding": 2.7, "labelOffset": 6, "encode": {"symbols": {"update": {"fill": {"value": {"expr": "['#CC78BC','#0173B2','#DE8F05'][datum.index]"}}}}}}}}},
              {"data": {"name": "diag"}, "mark": {"type": "line", "color": "#000", "strokeWidth": 1.4, "strokeDash": [5, 3]},
               "encoding": {
                 "x": {"field": "x", "type": "quantitative", "scale": {"domain": [-0.05, 1.05], "nice": false, "zero": false}, "axis": {"orient": "top", "labels": false, "ticks": false, "title": "Calibration Curves – Test Cohort", "titleFontSize": 10, "titlePadding": 3}},
                 "y": {"field": "y", "type": "quantitative", "scale": {"domain": [-0.05, 1.05], "nice": false, "zero": false}, "axis": {"title": "Fraction of Positives", "values": [0, 0.2, 0.4, 0.6, 0.8, 1], "format": ".1f"}}}}
            ]
          }
        ],
        "spacing": 95.6,
        "bounds": "flush",
        "resolve": {"scale": {"color": "independent"}, "legend": {"color": "independent"}}
      }
    ],
    "spacing": 36,
    "resolve": {"scale": {"color": "independent", "strokeDash": "independent"}, "legend": {"color": "independent", "strokeDash": "independent"}}
  }
]
}
